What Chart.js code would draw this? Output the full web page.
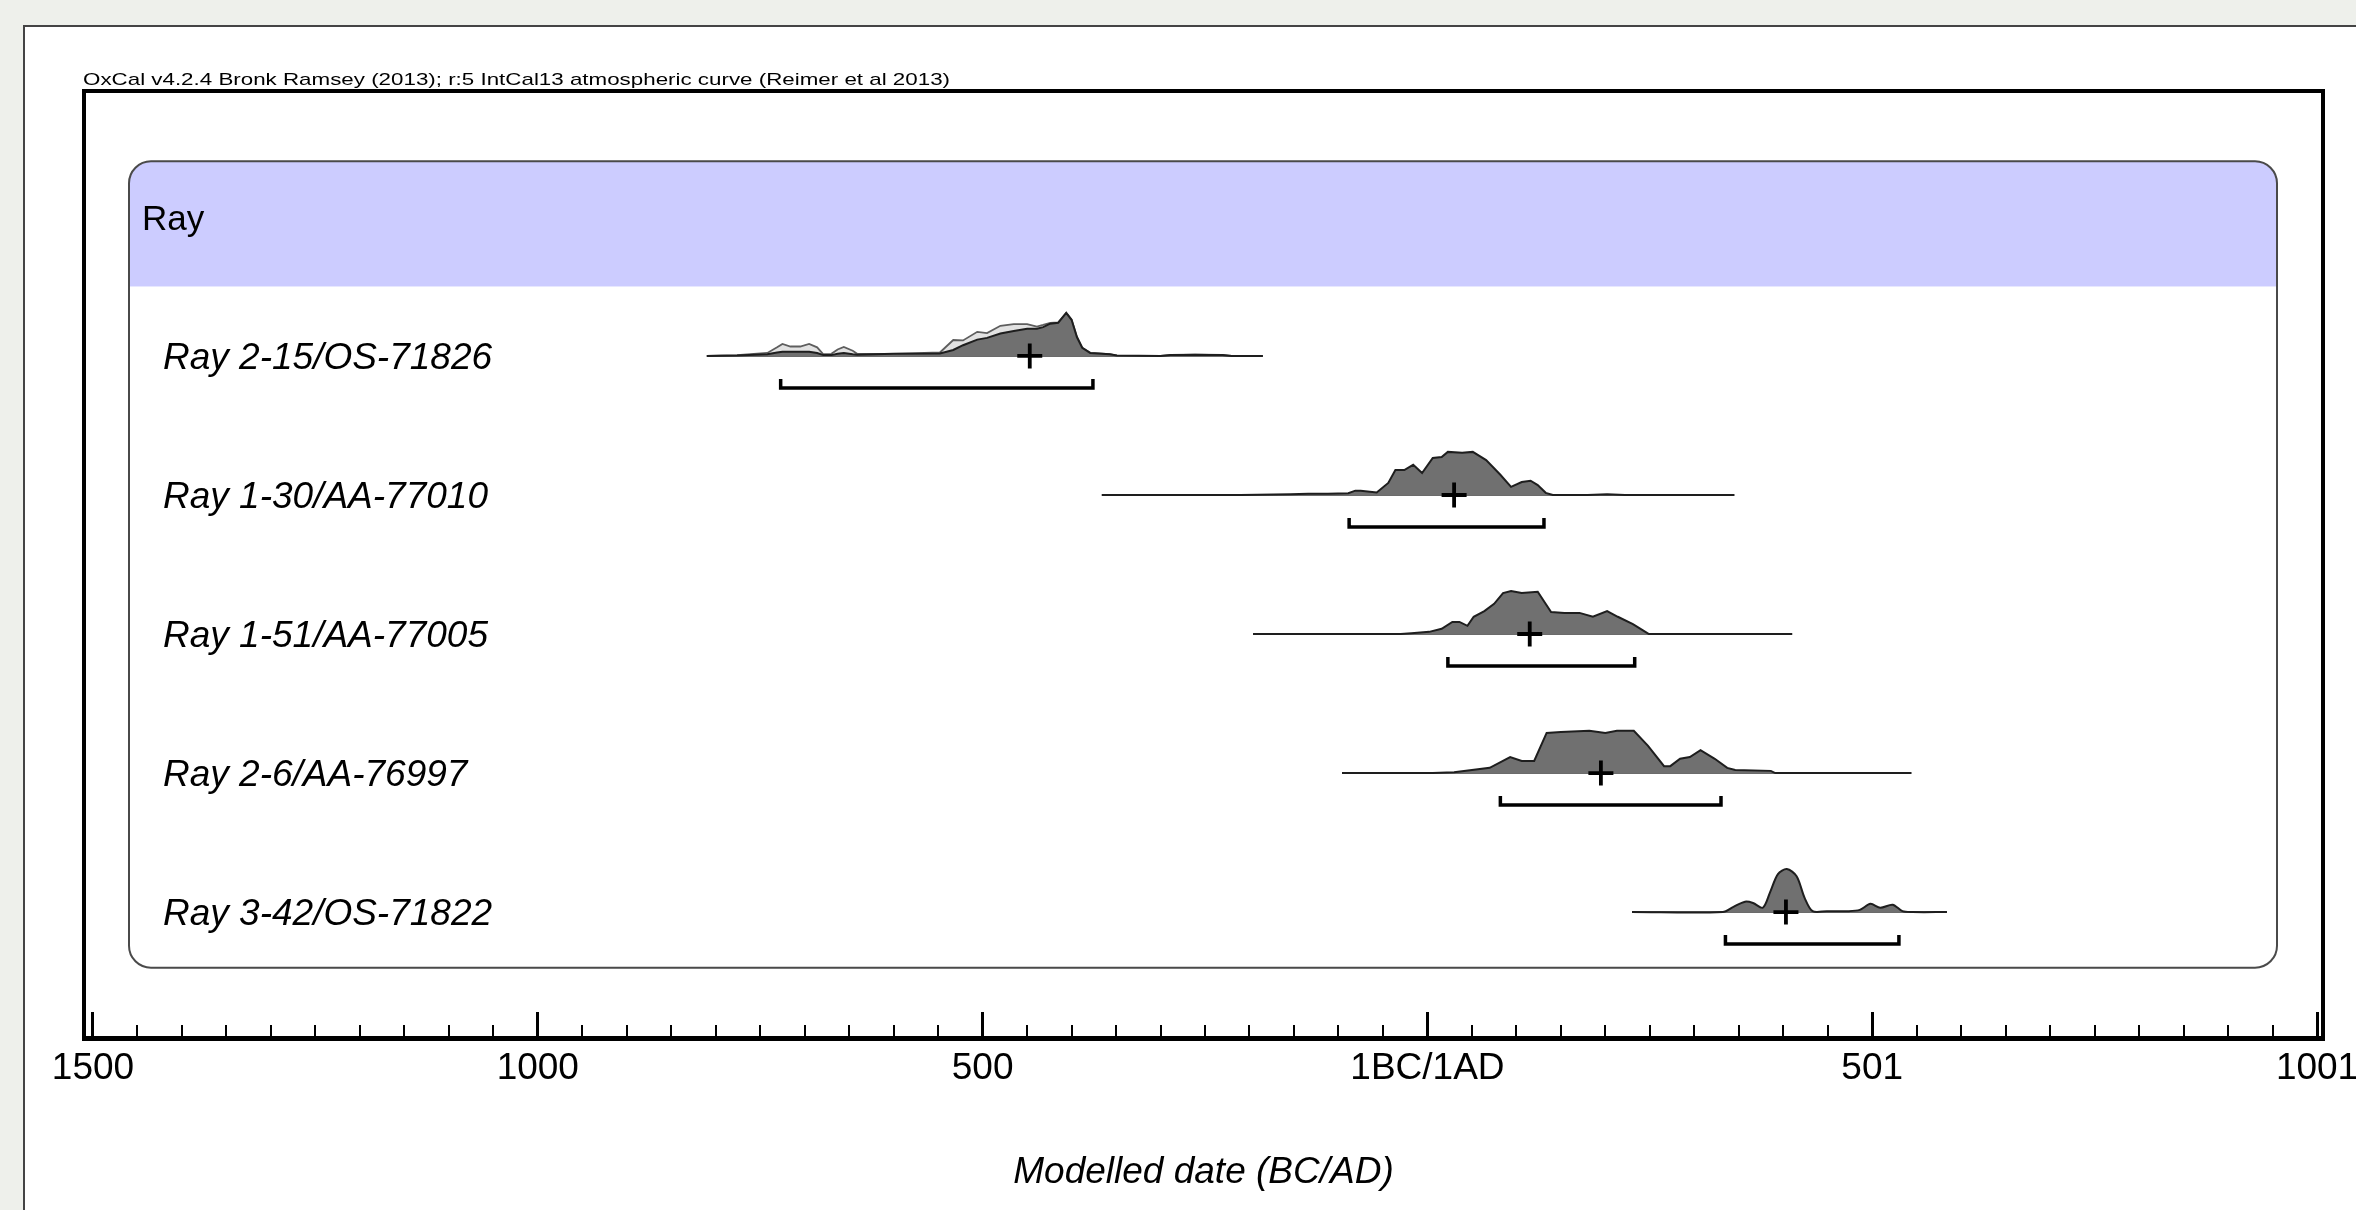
<!DOCTYPE html>
<html>
<head>
<meta charset="utf-8">
<script src="https://cdn.jsdelivr.net/npm/chart.js@4.4.0/dist/chart.umd.min.js"></script>
<style>
  html, body { margin: 0; padding: 0; width: 2356px; height: 1210px; overflow: hidden; background: #eef0eb; }
  #sheet { position: absolute; left: 23px; top: 25px; width: 2400px; height: 1300px; background: #fff; border: 2px solid #444; }
  #wrap { position: absolute; left: 0; top: 0; width: 2356px; height: 1210px; }
</style>
</head>
<body>
<div id="sheet"></div>
<div id="wrap"><canvas id="oxcalChart" width="2356" height="1210"></canvas></div>
<script>
const TITLE = 'OxCal v4.2.4 Bronk Ramsey (2013); r:5 IntCal13 atmospheric curve (Reimer et al 2013)';
const AXIS_TITLE = 'Modelled date (BC/AD)';
const GROUP = 'Ray';
const SAMPLES = ['Ray 2-15/OS-71826', 'Ray 1-30/AA-77010', 'Ray 1-51/AA-77005', 'Ray 2-6/AA-76997', 'Ray 3-42/OS-71822'];

// years on a BC/AD scale: BC negative, 0 = 1BC/1AD ; densities relative to peak
const years1 = [-810, -776, -742, -731, -725, -716, -705, -695, -686, -679, -670, -663, -656, -646, -641, -600, -548, -533, -522, -506, -495, -480, -465, -450, -439, -432, -424, -415, -406, -400, -394, -388, -379, -357, -349, -300, -289, -261, -230, -220, -185];
const post1  = [0, 0.01, 0.04, 0.08, 0.1, 0.1, 0.1, 0.1, 0.07, 0.02, 0.02, 0.05, 0.07, 0.04, 0.03, 0.05, 0.06, 0.14, 0.25, 0.38, 0.42, 0.52, 0.58, 0.63, 0.63, 0.67, 0.75, 0.77, 1.0, 0.84, 0.44, 0.19, 0.07, 0.04, 0.01, 0, 0.02, 0.03, 0.02, 0, 0];
const prior1 = [0, 0.02, 0.07, 0.2, 0.28, 0.22, 0.22, 0.28, 0.2, 0.04, 0.05, 0.15, 0.21, 0.12, 0.05, 0.05, 0.08, 0.37, 0.36, 0.56, 0.53, 0.7, 0.74, 0.74, 0.68, 0.72, 0.77, 0.78, 1.0, 0.84, 0.44, 0.19, 0.07, 0.04, 0.01, 0, 0.02, 0.03, 0.02, 0, 0];

const years2 = [-366, -210, -154, -134, -112, -89, -81, -75, -57, -44, -36, -26, -16, -6, 6, 16, 23, 39, 51, 66, 82, 94, 106, 116, 124, 133, 141, 180, 202, 222, 345];
const post2  = [0, 0, 0.02, 0.03, 0.03, 0.04, 0.1, 0.1, 0.06, 0.28, 0.58, 0.58, 0.7, 0.51, 0.86, 0.88, 1.0, 0.98, 1.0, 0.81, 0.47, 0.19, 0.3, 0.33, 0.23, 0.05, 0, 0, 0.02, 0, 0];

const years3 = [-196, -30, -18, 2, 16, 28, 36, 45, 52, 64, 75, 85, 94, 106, 124, 139, 154, 171, 186, 202, 214, 231, 245, 249, 410];
const post3  = [0, 0, 0.02, 0.05, 0.12, 0.28, 0.28, 0.19, 0.4, 0.53, 0.7, 0.95, 1.0, 0.95, 0.98, 0.51, 0.49, 0.49, 0.4, 0.53, 0.4, 0.23, 0.05, 0, 0];

const years4 = [-96, 6, 30, 70, 93, 106, 120, 134, 150, 182, 200, 213, 232, 248, 266, 273, 284, 295, 307, 323, 337, 346, 386, 391, 544];
const post4  = [0, 0, 0.02, 0.12, 0.37, 0.28, 0.28, 0.93, 0.95, 0.98, 0.93, 0.98, 0.98, 0.63, 0.16, 0.16, 0.33, 0.37, 0.53, 0.33, 0.12, 0.07, 0.05, 0, 0];

const years5 = [230, 332, 344, 357, 366, 377, 385, 394, 404, 415, 424, 433, 449, 472, 486, 498, 509, 523, 534, 545, 584];
const post5  = [0, 0, 0.12, 0.24, 0.21, 0.1, 0.45, 0.88, 1.0, 0.83, 0.33, 0.02, 0.02, 0.02, 0.05, 0.19, 0.1, 0.17, 0.02, 0, 0];

// 95.4% ranges and means
const RANGE_FROM = [-727, -88, 23, 82, 335];
const RANGE_TO   = [-376, 131, 233, 330, 530];
const MEAN       = [-447, 30, 115, 195, 403];

const MAJOR_TICKS  = [-1500, -1000, -500, 0, 500, 1000];
const MAJOR_LABELS = ['1500', '1000', '500', '1BC/1AD', '501', '1001'];
const MINOR_STEP = 50;

const YEARS = [years1, years2, years3, years4, years5];
const POSTS = [post1, post2, post3, post4, post5];

const FONT = '"Liberation Sans", Arial, sans-serif';
const PEAK = 0.31;      // peak height in row units
const BRACKET = 0.23;   // bracket offset below the row line
const BRACKET_TIP = 0.065;
const X_MIN = -1510.1, X_MAX = 1006.7;
const Y_MIN = -0.906, Y_MAX = 5.906;

function curve(years, dens, row) {
    return years.map((x, i) => ({x: x, y: row - dens[i] * PEAK}));
}

const datasets = [];
YEARS.forEach((yrs, i) => {
    const row = i + 1;
    datasets.push({
        label: SAMPLES[i] + ' line',
        data: [{x: yrs[0], y: row}, {x: yrs[yrs.length - 1], y: row}],
        borderColor: '#3a3a3a', borderWidth: 1.6, pointRadius: 0, fill: false, order: 4
    });
    if (i === 0) {
        datasets.push({
            label: SAMPLES[i] + ' prior',
            data: curve(years1, prior1, row),
            borderColor: '#5e5e5e', borderWidth: 1.8, backgroundColor: '#e2e2e2',
            pointRadius: 0, fill: {value: row}, order: 3
        });
    }
    datasets.push({
        label: SAMPLES[i] + ' posterior',
        data: curve(yrs, POSTS[i], row),
        borderColor: '#1e1e1e', borderWidth: 2, backgroundColor: '#707070',
        pointRadius: 0, fill: {value: row}, order: 2,
        tension: i === 4 ? 0.3 : 0
    });
    datasets.push({
        label: SAMPLES[i] + ' range',
        data: [
            {x: RANGE_FROM[i], y: row + BRACKET - BRACKET_TIP},
            {x: RANGE_FROM[i], y: row + BRACKET},
            {x: RANGE_TO[i], y: row + BRACKET},
            {x: RANGE_TO[i], y: row + BRACKET - BRACKET_TIP}
        ],
        borderColor: '#000', borderWidth: 3.5, pointRadius: 0, fill: false, order: 1
    });
    datasets.push({
        label: SAMPLES[i] + ' mean',
        data: [{x: MEAN[i], y: row}],
        showLine: false, pointStyle: 'cross', pointRadius: 12.5,
        pointBorderWidth: 3.8, pointBorderColor: '#000', order: 0
    });
});

const groupBox = {
    id: 'groupBox',
    beforeDraw(chart) {
        const {ctx, chartArea: a} = chart;
        const y = chart.scales.y;
        const left = a.left + 45, right = a.right - 46;
        const top = y.getPixelForValue(-0.4), bottom = y.getPixelForValue(5.4);
        const headBottom = y.getPixelForValue(0.5);
        ctx.save();
        ctx.beginPath();
        ctx.roundRect(left, top, right - left, bottom - top, 22);
        ctx.fillStyle = '#fff';
        ctx.fill();
        ctx.save();
        ctx.clip();
        ctx.fillStyle = '#ccccff';
        ctx.fillRect(left, top, right - left, headBottom - top);
        ctx.restore();
        ctx.lineWidth = 2;
        ctx.strokeStyle = '#4a4a4a';
        ctx.stroke();
        ctx.restore();
    }
};

const frame = {
    id: 'frame',
    afterDraw(chart) {
        const {ctx, chartArea: a} = chart;
        ctx.save();
        ctx.lineWidth = 4;
        ctx.strokeStyle = '#000';
        ctx.beginPath();
        ctx.moveTo(a.left, a.bottom);
        ctx.lineTo(a.left, a.top);
        ctx.lineTo(a.right, a.top);
        ctx.lineTo(a.right, a.bottom);
        ctx.stroke();
        // header line of the plot
        ctx.font = '17px ' + FONT;
        ctx.fillStyle = '#000';
        ctx.textBaseline = 'alphabetic';
        const w = ctx.measureText(TITLE).width;
        ctx.translate(a.left - 1, a.top - 6);
        ctx.scale(867 / w, 1);
        ctx.fillText(TITLE, 0, 0);
        ctx.restore();
    }
};

function noSidePad(s) { s.paddingLeft = 0; s.paddingRight = 0; }
function noEndPad(s) { s.paddingTop = 0; s.paddingBottom = 0; }

new Chart(document.getElementById('oxcalChart'), {
    type: 'line',
    data: {datasets: datasets},
    options: {
        responsive: false,
        animation: false,
        devicePixelRatio: 1,
        layout: {padding: {left: 84, right: 33, top: 91, bottom: 0}},
        datasets: {line: {xAxisID: 'x', yAxisID: 'y'}},
        plugins: {legend: {display: false}, tooltip: {enabled: false}},
        scales: {
            x: {
                type: 'linear', min: X_MIN, max: X_MAX, position: 'bottom', weight: 1,
                afterBuildTicks: s => { s.ticks = MAJOR_TICKS.map(v => ({value: v})); },
                afterFit: s => { s.height = 172; noSidePad(s); },
                border: {display: true, color: '#000', width: 5},
                grid: {display: true, drawOnChartArea: false, drawTicks: true, tickLength: -26, color: '#000', lineWidth: 3},
                ticks: {
                    color: '#000', font: {family: FONT, size: 37}, padding: 35,
                    maxRotation: 0, autoSkip: false,
                    callback: (v, i) => MAJOR_LABELS[i]
                },
                title: {
                    display: true, text: AXIS_TITLE, color: '#000',
                    font: {family: FONT, size: 37, style: 'italic'}, padding: {top: 0, bottom: 15}
                }
            },
            xMinor: {
                type: 'linear', min: X_MIN, max: X_MAX, position: 'bottom', weight: 0,
                afterBuildTicks: s => {
                    const t = [];
                    for (let v = MAJOR_TICKS[0]; v <= MAJOR_TICKS[MAJOR_TICKS.length - 1]; v += MINOR_STEP) t.push({value: v});
                    s.ticks = t;
                },
                afterFit: s => { s.height = 0; noSidePad(s); },
                border: {display: false},
                grid: {display: true, drawOnChartArea: false, drawTicks: true, tickLength: -13, color: '#000', lineWidth: 2},
                ticks: {display: false}
            },
            y: {
                type: 'linear', min: Y_MIN, max: Y_MAX, reverse: true, position: 'left',
                afterBuildTicks: s => { s.ticks = SAMPLES.map((_, i) => ({value: i + 1})); },
                afterFit: s => { s.width = 0; noEndPad(s); },
                grid: {display: false}, border: {display: false},
                ticks: {
                    mirror: true, padding: 79, labelOffset: 3, color: '#000',
                    font: {family: FONT, size: 37, style: 'italic'},
                    callback: (v, i) => SAMPLES[i]
                }
            },
            yHead: {
                type: 'linear', min: Y_MIN, max: Y_MAX, reverse: true, position: 'left',
                afterBuildTicks: s => { s.ticks = [{value: 0}]; },
                afterFit: s => { s.width = 0; noEndPad(s); },
                grid: {display: false}, border: {display: false},
                ticks: {
                    mirror: true, padding: 58, labelOffset: 3, color: '#000',
                    font: {family: FONT, size: 35},
                    callback: () => GROUP
                }
            }
        }
    },
    plugins: [groupBox, frame]
});
</script>
</body>
</html>
